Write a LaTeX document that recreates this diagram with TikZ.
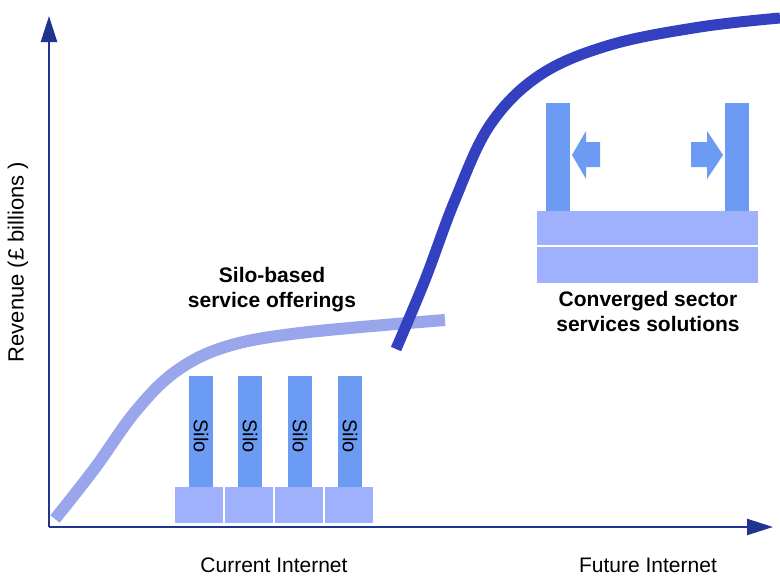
\documentclass[tikz,border=0pt]{standalone}
\usepackage{fontspec}
\setmainfont{Liberation Sans}
\usetikzlibrary{arrows.meta}
\definecolor{axisblue}{HTML}{1F3590}
\definecolor{silocurve}{HTML}{99A6EB}
\definecolor{convcurve}{HTML}{3341C0}
\definecolor{column}{HTML}{6B9BF2}
\definecolor{basebox}{HTML}{9FB0FC}
\begin{document}
\begin{tikzpicture}[x=1pt,y=-1pt,
  axis/.style={draw=axisblue,line width=2.4pt,-{Triangle[length=26pt,width=16pt]}},
  col/.style={fill=column,draw=none,inner sep=0pt},
  base/.style={fill=basebox,draw=none,inner sep=0pt},
  lbl/.style={font=\fontsize{21}{25}\selectfont\bfseries,align=center},
  axlbl/.style={font=\fontsize{21}{24}\selectfont,inner sep=0pt},
  silotxt/.style={font=\fontsize{20}{22}\selectfont,rotate=-90}]
\useasboundingbox (0,0) rectangle (780,576);

% axes
\coordinate (origin) at (49,527);
\coordinate (ytop) at (49,16);
\coordinate (xend) at (773,527);
\draw[axis] (origin) -- (ytop);
\draw[axis] (origin) -- (xend);

% silo-based revenue curve
\draw[silocurve,line width=12pt] plot[smooth,tension=0.6] coordinates
  {(55,519) (95,468) (135,412) (175,372) (225,347) (300,333) (445,320)};

% silo columns and their bases
\foreach \i/\x in {1/201,2/250,3/300,4/350}{
  \node[col,minimum width=24pt,minimum height=111pt] (silo\i) at (\x,431.5) {};
  \node[silotxt] (silotext\i) at (\x,436) {Silo};
}
\foreach \i/\x in {1/199,2/249,3/299,4/349}{
  \node[base,minimum width=48pt,minimum height=36pt] (sbase\i) at (\x,505) {};
}

% converged revenue curve
\draw[convcurve,line width=11pt] plot[smooth,tension=0.6] coordinates
  {(396,349) (425,280) (455,200) (490,125) (540,75) (610,45) (700,27) (780,18)};

% converged structure
\node[col,minimum width=24pt,minimum height=108pt] (lcol) at (558,157) {};
\node[col,minimum width=24pt,minimum height=108pt] (rcol) at (737,157) {};
\node[base,minimum width=221pt,minimum height=34pt] (bar1) at (647.5,228) {};
\node[base,minimum width=221pt,minimum height=36pt] (bar2) at (647.5,265) {};
\fill[column] (572,155) -- (586,131) -- (586,142) -- (600,142) -- (600,167) -- (586,167) -- (586,179) -- cycle;
\fill[column] (723,155) -- (707,131) -- (707,142) -- (691,142) -- (691,167) -- (707,167) -- (707,179) -- cycle;

% labels
\node[lbl] (silolbl) at (272,290) {Silo-based\\service offerings};
\node[lbl] (convlbl) at (648,311) {Converged sector\\services solutions};
\node[axlbl,font=\fontsize{22}{24}\selectfont,rotate=90] (ylbl) at (18,262) {Revenue (£ billions )};
\node[axlbl,anchor=base] (curlbl) at (274,572) {Current Internet};
\node[axlbl,anchor=base] (futlbl) at (648,572) {Future Internet};
\end{tikzpicture}
\end{document}
